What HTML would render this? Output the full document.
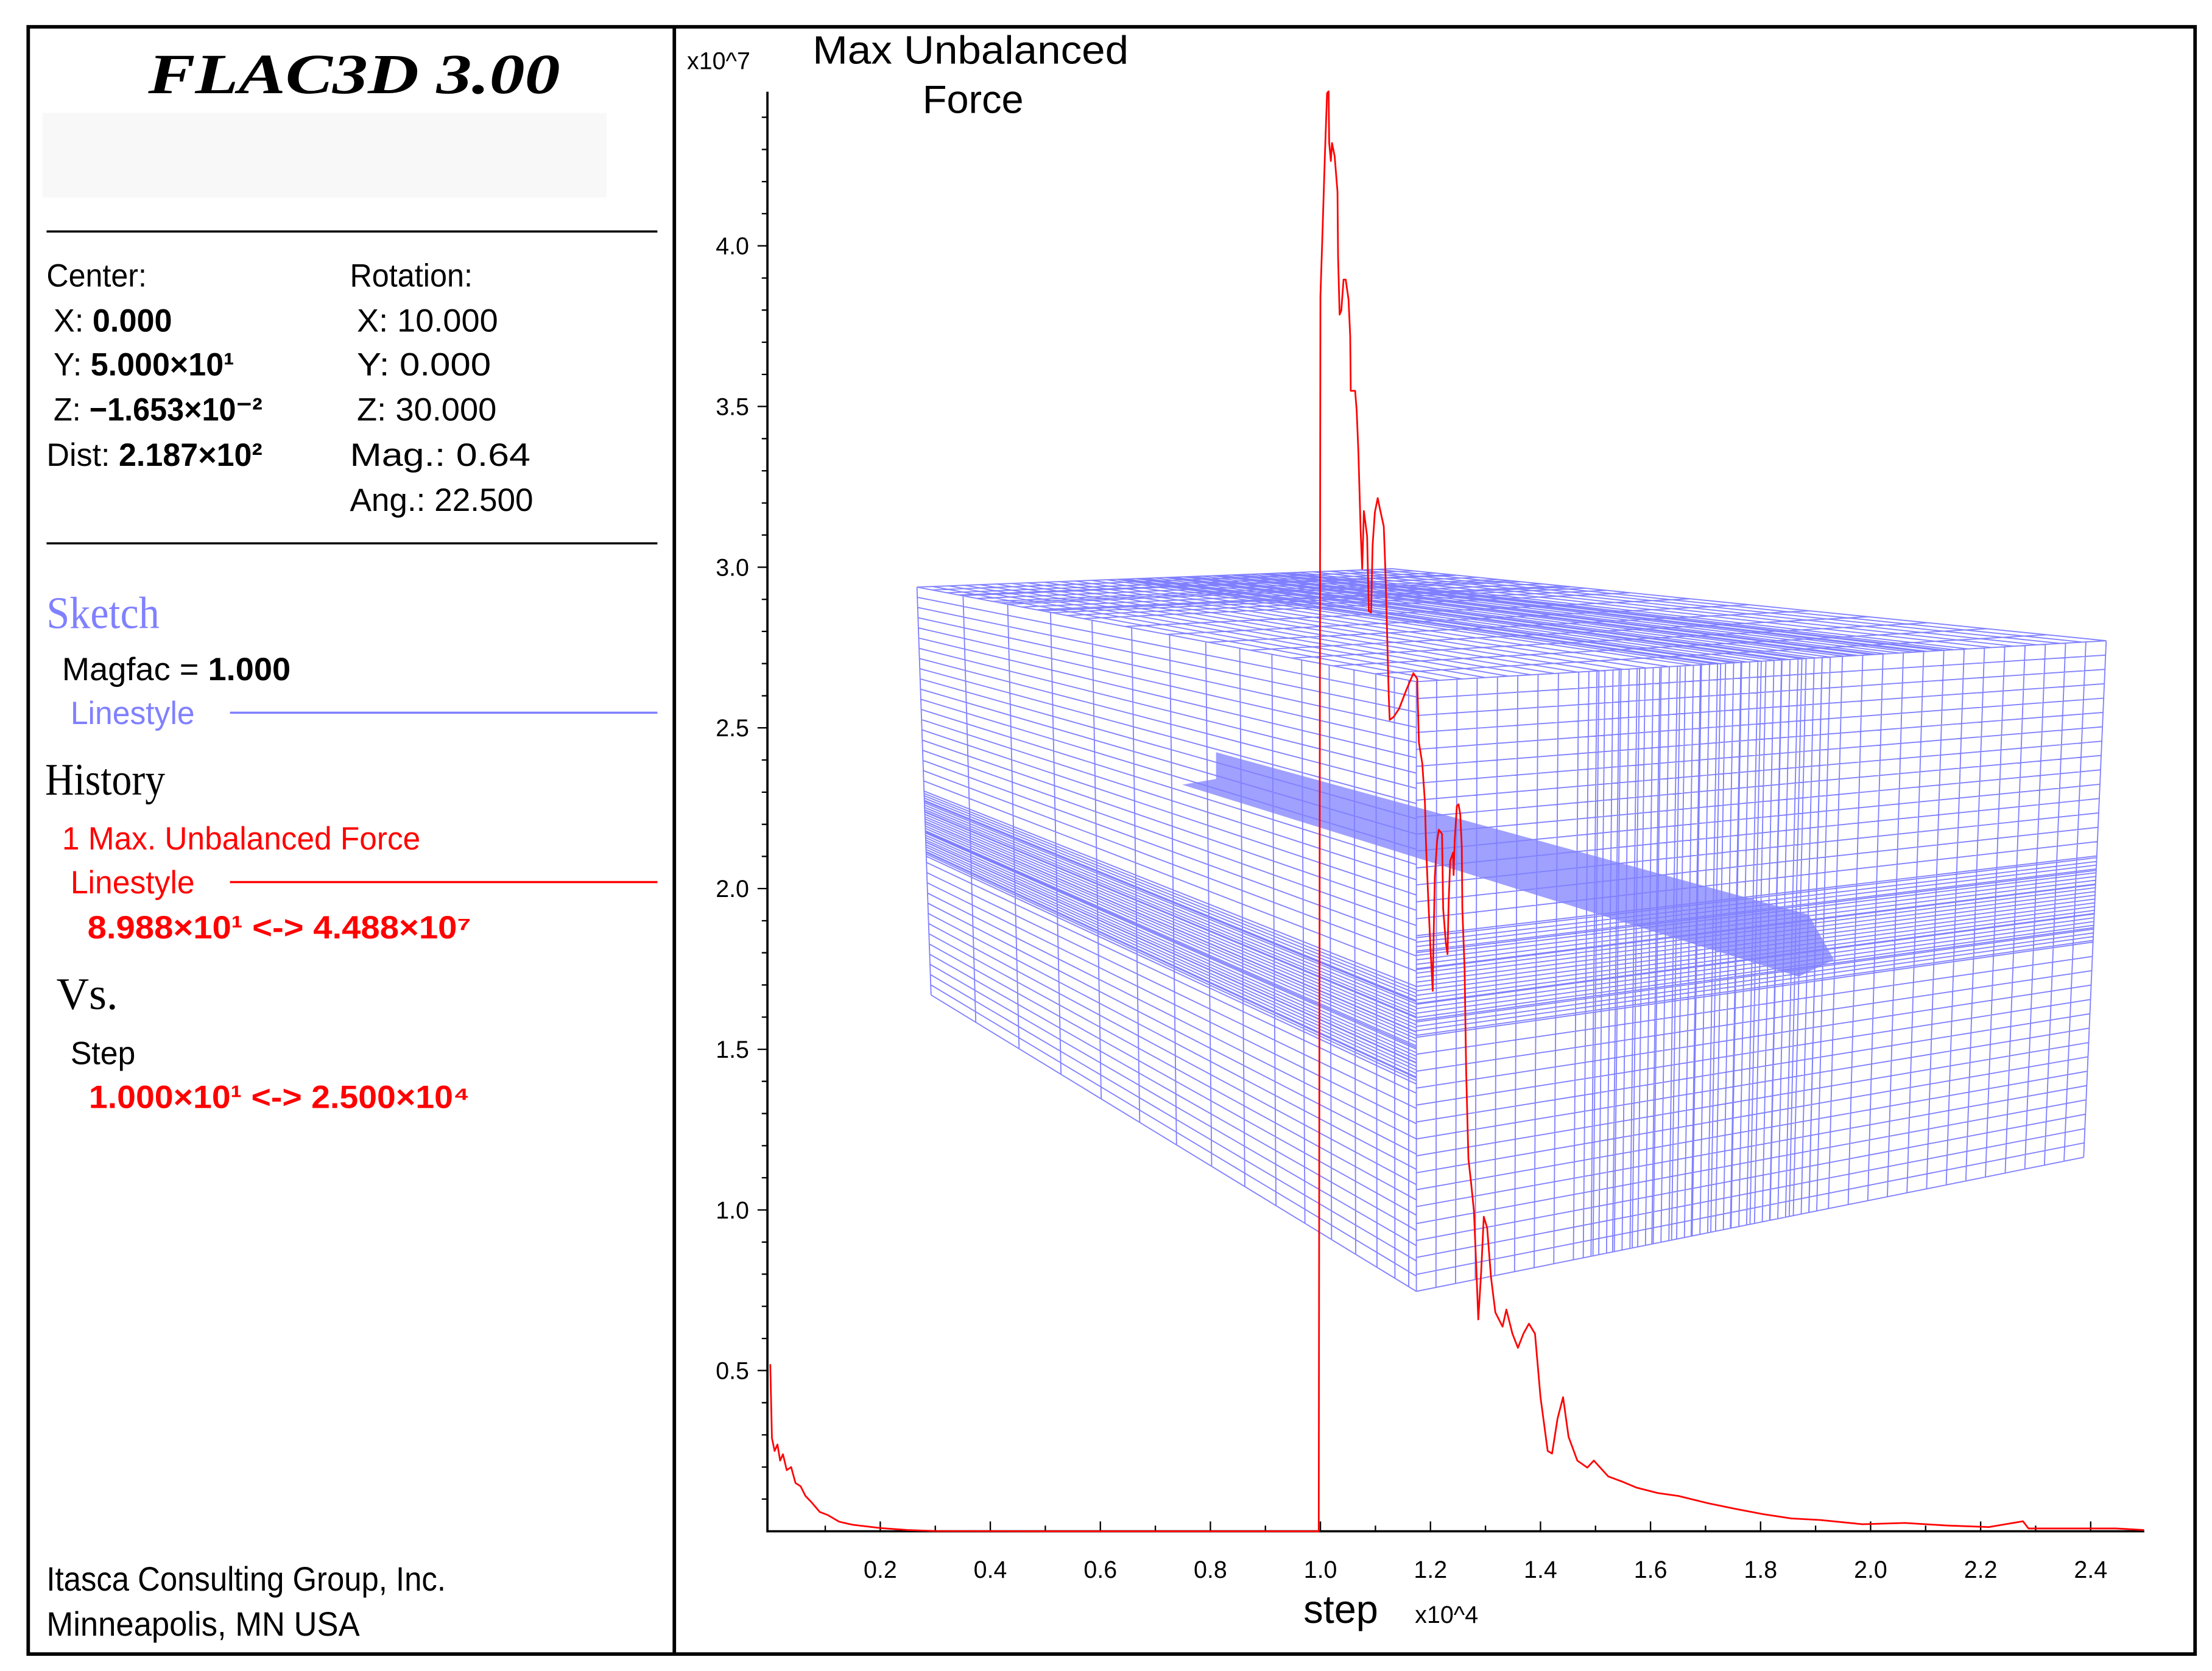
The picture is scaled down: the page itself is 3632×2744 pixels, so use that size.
<!DOCTYPE html>
<html><head><meta charset="utf-8"><style>
html,body{margin:0;padding:0;background:#fff}
svg{display:block}
.n{font-family:"Liberation Sans Narrow","Liberation Sans",sans-serif}
.s{font-family:"Liberation Serif",serif}
.a{font-family:"Liberation Sans",sans-serif}
</style></head><body>
<svg id="root" width="3632" height="2744" viewBox="0 0 1568 1184" preserveAspectRatio="none" xmlns="http://www.w3.org/2000/svg">
<rect x="0" y="0" width="1568" height="1184" fill="#fff"/>
<rect x="20" y="19" width="1536" height="1153" fill="none" stroke="#000" stroke-width="2.5"/>
<line x1="478" y1="19" x2="478" y2="1172" stroke="#000" stroke-width="2.5"/>
<g>
<text class="s" x="105" y="66" font-size="40" font-weight="bold" font-style="italic" textLength="292" lengthAdjust="spacingAndGlyphs">FLAC3D 3.00</text>
<rect x="30" y="80" width="400" height="60" fill="#f8f8f8"/>
<line x1="33" y1="164" x2="466" y2="164" stroke="#000" stroke-width="1.5"/>
<g class="n" font-size="23" fill="#000">
<text x="33" y="203" textLength="71" lengthAdjust="spacingAndGlyphs">Center:</text>
<text x="38" y="235" textLength="84" lengthAdjust="spacingAndGlyphs">X: <tspan font-weight="bold">0.000</tspan></text>
<text x="38" y="266" textLength="128" lengthAdjust="spacingAndGlyphs">Y: <tspan font-weight="bold">5.000×10¹</tspan></text>
<text x="38" y="298" textLength="148" lengthAdjust="spacingAndGlyphs">Z: <tspan font-weight="bold">−1.653×10⁻²</tspan></text>
<text x="33" y="330" textLength="153" lengthAdjust="spacingAndGlyphs">Dist: <tspan font-weight="bold">2.187×10²</tspan></text>
<text x="248" y="203" textLength="87" lengthAdjust="spacingAndGlyphs">Rotation:</text>
<text x="253" y="235" textLength="100" lengthAdjust="spacingAndGlyphs">X:  10.000</text>
<text x="253" y="266" textLength="95" lengthAdjust="spacingAndGlyphs">Y:   0.000</text>
<text x="253" y="298" textLength="99" lengthAdjust="spacingAndGlyphs">Z:  30.000</text>
<text x="248" y="330" textLength="128" lengthAdjust="spacingAndGlyphs">Mag.:     0.64</text>
<text x="248" y="362" textLength="130" lengthAdjust="spacingAndGlyphs">Ang.:  22.500</text>
</g>
<line x1="33" y1="385" x2="466" y2="385" stroke="#000" stroke-width="1.5"/>
<text class="s" x="33" y="445" font-size="32" fill="#8080ff" textLength="80" lengthAdjust="spacingAndGlyphs">Sketch</text>
<text class="n" x="44" y="482" font-size="23" textLength="162" lengthAdjust="spacingAndGlyphs">Magfac =  <tspan font-weight="bold">1.000</tspan></text>
<text class="n" x="50" y="513" font-size="23" fill="#8080ff" textLength="88" lengthAdjust="spacingAndGlyphs">Linestyle</text>
<line x1="163" y1="505" x2="466" y2="505" stroke="#8080ff" stroke-width="1.5"/>
<text class="s" x="32" y="563" font-size="32" textLength="85" lengthAdjust="spacingAndGlyphs">History</text>
<text class="n" x="44" y="602" font-size="23" fill="#f00" textLength="254" lengthAdjust="spacingAndGlyphs">1 Max. Unbalanced Force</text>
<text class="n" x="50" y="633" font-size="23" fill="#f00" textLength="88" lengthAdjust="spacingAndGlyphs">Linestyle</text>
<line x1="163" y1="625" x2="466" y2="625" stroke="#f00" stroke-width="1.5"/>
<text class="n" x="62" y="665" font-size="23" fill="#f00" font-weight="bold" textLength="272" lengthAdjust="spacingAndGlyphs">8.988×10¹   &lt;-&gt;   4.488×10⁷</text>
<text class="s" x="40" y="715" font-size="32">Vs.</text>
<text class="n" x="50" y="754" font-size="23" textLength="46" lengthAdjust="spacingAndGlyphs">Step</text>
<text class="n" x="63" y="785" font-size="23" fill="#f00" font-weight="bold" textLength="270" lengthAdjust="spacingAndGlyphs">1.000×10¹   &lt;-&gt;   2.500×10⁴</text>
<text class="n" x="33" y="1127" font-size="24" textLength="283" lengthAdjust="spacingAndGlyphs">Itasca Consulting Group, Inc.</text>
<text class="n" x="33" y="1159" font-size="24" textLength="222" lengthAdjust="spacingAndGlyphs">Minneapolis, MN  USA</text>
</g>
<g id="mesh" stroke="#8080ff" stroke-width="0.8" fill="none"></g>
<g id="chart"></g>
</svg>
<script>
const steps=[0.000,0.003,0.008,0.013,0.018,0.023,0.030,0.038,0.046,0.055,0.064,0.075,0.090,0.105,0.125,0.150,0.200,0.250,0.300,0.500,0.800,0.997,1.000,1.003,1.008,1.012,1.015,1.016,1.019,1.021,1.026,1.031,1.032,1.035,1.038,1.042,1.046,1.051,1.054,1.055,1.063,1.066,1.069,1.073,1.076,1.079,1.085,1.088,1.092,1.095,1.099,1.104,1.109,1.115,1.118,1.121,1.124,1.126,1.133,1.143,1.156,1.169,1.176,1.179,1.185,1.190,1.192,1.196,1.200,1.204,1.205,1.208,1.212,1.215,1.221,1.223,1.228,1.231,1.233,1.236,1.241,1.242,1.244,1.248,1.251,1.254,1.257,1.258,1.262,1.265,1.269,1.274,1.279,1.283,1.287,1.292,1.297,1.303,1.310,1.318,1.331,1.338,1.349,1.359,1.369,1.379,1.390,1.400,1.413,1.421,1.431,1.441,1.451,1.467,1.485,1.497,1.523,1.549,1.574,1.613,1.651,1.703,1.754,1.805,1.856,1.908,1.985,2.062,2.138,2.215,2.277,2.287,2.369,2.446,2.497];
const force=[0.52,0.29,0.25,0.27,0.22,0.24,0.19,0.20,0.15,0.14,0.11,0.09,0.06,0.05,0.03,0.02,0.01,0.004,0.001,0.0,0.0,0.0,3.843,4.005,4.273,4.475,4.481,4.32,4.264,4.32,4.278,4.168,3.966,3.786,3.799,3.895,3.895,3.834,3.72,3.549,3.549,3.487,3.36,3.114,2.995,3.175,3.096,2.863,2.859,3.07,3.171,3.215,3.175,3.127,2.995,2.806,2.604,2.525,2.534,2.56,2.617,2.67,2.653,2.455,2.389,2.266,2.13,1.972,1.814,1.682,1.796,2.038,2.148,2.183,2.17,1.937,1.831,1.796,1.959,2.086,2.112,2.042,2.152,2.257,2.262,2.231,2.13,1.937,1.748,1.432,1.159,1.08,0.997,0.83,0.659,0.804,0.979,0.944,0.791,0.681,0.637,0.69,0.615,0.571,0.615,0.646,0.615,0.417,0.25,0.242,0.351,0.417,0.294,0.22,0.198,0.22,0.171,0.154,0.136,0.119,0.11,0.088,0.07,0.053,0.04,0.035,0.022,0.026,0.018,0.013,0.031,0.009,0.009,0.009,0.004];
const xTicks=[0.2,0.4,0.6,0.8,1.0,1.2,1.4,1.6,1.8,2.0,2.2,2.4];
const yTicks=[0.5,1.0,1.5,2.0,2.5,3.0,3.5,4.0];
const NS='http://www.w3.org/2000/svg';
function X(s){return 546+s*390;}
function Y(f){return 1085-f*227.7;}
function mk(tag,attrs,parent,txt){const e=document.createElementNS(NS,tag);for(const k in attrs)e.setAttribute(k,attrs[k]);if(txt!==undefined)e.textContent=txt;parent.appendChild(e);return e;}

const mesh=document.getElementById('mesh');
let md='';
function lerp(p,q,t){return [p[0]+(q[0]-p[0])*t,p[1]+(q[1]-p[1])*t];}
function bil(P00,P10,P01,P11,u,v){const a=lerp(P00,P10,u),b=lerp(P01,P11,u);return lerp(a,b,v);}
function face(P00,P10,P01,P11,us,vs){
  us.forEach(u=>{const a=bil(P00,P10,P01,P11,u,0),b=bil(P00,P10,P01,P11,u,1);md+=`M${a[0].toFixed(1)} ${a[1].toFixed(1)}L${b[0].toFixed(1)} ${b[1].toFixed(1)}`;});
  vs.forEach(v=>{const a=bil(P00,P10,P01,P11,0,v),b=bil(P00,P10,P01,P11,1,v);md+=`M${a[0].toFixed(1)} ${a[1].toFixed(1)}L${b[0].toFixed(1)} ${b[1].toFixed(1)}`;});
}
function grid(n,pow){const r=[];for(let i=0;i<=n;i++){r.push(pow(i/n));}return r;}
function band(base,a,b,m){const r=base.slice();for(let i=0;i<=m;i++)r.push(a+(b-a)*i/m);return r;}
const A=[650,416],B=[987,403],C=[1493,454],D=[1004,483],E=[660,705],F=[1004,915],G=[1477,820];
face(A,D,E,F,grid(16,t=>1-Math.pow(1-t,1.5)),band(grid(40,t=>t),0.5,0.66,28));
face(D,C,F,G,band(grid(34,t=>t),0.25,0.6,30),band(grid(36,t=>t),0.42,0.58,22));
face(A,B,D,C,band(grid(30,t=>t),0.4,0.8,20),band(grid(12,t=>t),0.0,0.3,10));
mk('path',{d:md},mesh);
const fault=mk('polygon',{points:'862,533 1282,648 1300,680 1275,692 838,556 862,552',fill:'#8080ff','fill-opacity':'0.75',stroke:'none'},mesh);



const ch=document.getElementById('chart');
const ax=mk('path',{d:'M544 65L544 1085L1520 1085',stroke:'#000','stroke-width':'1.6',fill:'none'},ch);


let td='';
for(let f=0.1;f<4.45;f+=0.1){td+=`M${544-(Math.abs(f*2-Math.round(f*2))<0.01?7:4)} ${Y(f).toFixed(1)}H544`;}
for(let s=0.1;s<2.46;s+=0.1){td+=`M${X(s).toFixed(1)} 1085v${Math.abs(s*5-Math.round(s*5))<0.01?-7:-4}`;}
mk('path',{d:td,stroke:'#000','stroke-width':'1',fill:'none'},ch);
yTicks.forEach(v=>{
  const t=mk('text',{x:531,y:Y(v)+6,'text-anchor':'end','font-size':'17',class:'a'},ch,v.toFixed(1));
  
  
});
xTicks.forEach(v=>{
  const t=mk('text',{x:X(v),y:1118,'text-anchor':'middle','font-size':'17',class:'a'},ch,v.toFixed(1));
  
  
});
const yt=mk('text',{x:576,y:45,'font-size':'28',class:'a',textLength:'224',lengthAdjust:'spacingAndGlyphs'},ch,'Max Unbalanced');


mk('text',{x:654,y:80,'font-size':'28',class:'a'},ch,'Force');
const ye=mk('text',{x:487,y:49,'font-size':'17',class:'a'},ch,'x10^7');


const xl=mk('text',{x:924,y:1150,'font-size':'28',class:'a'},ch,'step');


const xe=mk('text',{x:1003,y:1150,'font-size':'17',class:'a'},ch,'x10^4');


let d='';
steps.forEach((s,i)=>{d+=(i?'L':'M')+X(s).toFixed(1)+' '+Y(force[i]).toFixed(1);});
const ln=mk('path',{d:d,stroke:'#f00','stroke-width':'1.2',fill:'none','stroke-linejoin':'round'},ch);


</script>
</body></html>
